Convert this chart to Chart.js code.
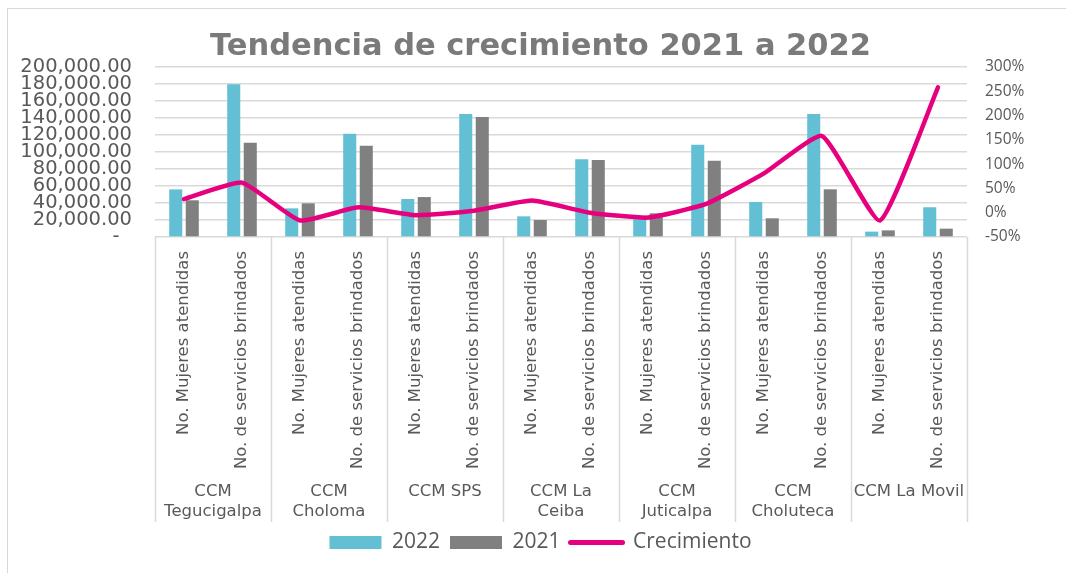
<!DOCTYPE html>
<html>
<head>
<meta charset="utf-8">
<script src="https://cdn.jsdelivr.net/npm/chart.js@4"></script>
<style>
  html, body { margin: 0; padding: 0; background: #fff; overflow: hidden; }
  #frame { position: absolute; left: 7px; top: 8px; width: 2000px; height: 2000px;
           border-left: 1.5px solid #d9d9d9; border-top: 1.5px solid #d9d9d9; }
  #chart { position: absolute; left: 0; top: 0; }
</style>
</head>
<body>
<div id="frame"></div>
<canvas id="chart" width="1066" height="573"></canvas>
<script>
// categories (inner level) and groups (outer level)
const groups = [
    ['CCM', 'Tegucigalpa'],
    ['CCM', 'Choloma'],
    'CCM SPS',
    ['CCM La', 'Ceiba'],
    ['CCM', 'Juticalpa'],
    ['CCM', 'Choluteca'],
    'CCM La Movil'
];
const subCategories = ['No. Mujeres atendidas', 'No. de servicios brindados'];
const labels = groups.flatMap(() => subCategories);

// series values
const values2022 = [56000, 179600, 33700, 121600, 44700, 144700, 24300, 91400, 25000, 108600, 41200, 144700, 6300, 35000];
const values2021 = [43200, 111000, 39600, 107400, 47000, 141200, 20000, 90600, 27900, 89800, 22000, 56100, 7800, 9800];
const growth = [0.28, 0.62, -0.16, 0.11, -0.05, 0.04, 0.25, 0.00, -0.10, 0.18, 0.81, 1.58, -0.16, 2.58];

const grey = '#595959';

// vertical separators between the outer groups of the axis
const groupLinesPlugin = {
    id: 'groupLines',
    afterDraw: (chart) => {
        const { ctx } = chart;
        const x = chart.scales.x;
        const x2 = chart.scales.x2;
        const step = x2.width / groups.length;
        ctx.save();
        ctx.strokeStyle = '#d9d9d9';
        ctx.lineWidth = 1.5;
        for (let i = 0; i <= groups.length; i++) {
            const px = Math.round(x2.left + i * step) + 0.5;
            ctx.beginPath();
            ctx.moveTo(px, x.top);
            ctx.lineTo(px, x2.bottom);
            ctx.stroke();
        }
        ctx.restore();
    }
};

const ctx = document.getElementById('chart').getContext('2d');
new Chart(ctx, {
    type: 'bar',
    data: {
        labels: labels,
        datasets: [
            {
                label: '2022',
                data: values2022,
                backgroundColor: '#63bfd3',
                yAxisID: 'y',
                order: 1,
                categoryPercentage: 0.57,
                barPercentage: 0.79
            },
            {
                label: '2021',
                data: values2021,
                backgroundColor: '#808080',
                yAxisID: 'y',
                order: 2,
                categoryPercentage: 0.57,
                barPercentage: 0.79
            },
            {
                type: 'line',
                label: 'Crecimiento',
                data: growth,
                borderColor: '#e6007e',
                backgroundColor: '#e6007e',
                borderWidth: 4.5,
                borderCapStyle: 'round',
                borderJoinStyle: 'round',
                pointRadius: 0,
                tension: 0.15,
                yAxisID: 'y1',
                order: 0
            }
        ]
    },
    options: {
        responsive: false,
        animation: false,
        layout: { padding: { left: 15, right: 0, top: 0, bottom: 10 } },
        plugins: {
            tooltip: { enabled: false },
            title: {
                display: true,
                text: 'Tendencia de crecimiento 2021 a 2022',
                color: '#7a7a7a',
                font: { family: '"DejaVu Sans"', size: 30.5, weight: 'bold' },
                padding: { top: 28.5, bottom: 1.9 }
            },
            legend: {
                position: 'bottom',
                labels: {
                    color: grey,
                    font: { family: '"Open Sans"', size: 21 },
                    usePointStyle: true,
                    pointStyleWidth: 52,
                    boxHeight: 13,
                    padding: 10,
                    sort: (a, b) => a.datasetIndex - b.datasetIndex,
                    generateLabels: (chart) => {
                        const items = Chart.defaults.plugins.legend.labels.generateLabels(chart);
                        items.forEach(item => {
                            if (item.datasetIndex === 2) {
                                item.pointStyle = 'line';
                                item.lineWidth = 5;
                                item.lineCap = 'round';
                            } else {
                                item.pointStyle = 'rect';
                                item.lineWidth = 0;
                            }
                        });
                        return items;
                    }
                }
            }
        },
        scales: {
            x: {
                position: 'bottom',
                grid: { display: false },
                border: { display: false },
                ticks: {
                    color: grey,
                    font: { family: '"DejaVu Sans"', size: 16.5 },
                    minRotation: 90,
                    maxRotation: 90,
                    autoSkip: false,
                    padding: 6
                },
                afterFit: (s) => { s.height = 235; }
            },
            x2: {
                type: 'category',
                position: 'bottom',
                labels: groups,
                offset: true,
                grid: { display: false },
                border: { display: false },
                ticks: {
                    color: grey,
                    font: { family: '"DejaVu Sans"', size: 16.5, lineHeight: 1.2 },
                    maxRotation: 0,
                    autoSkip: false,
                    padding: 2
                },
                afterFit: (s) => { s.height = 50; }
            },
            y: {
                position: 'left',
                min: 0,
                max: 200000,
                grid: { color: '#d9d9d9', lineWidth: 1.4, drawTicks: false },
                border: { display: false },
                ticks: {
                    stepSize: 20000,
                    autoSkip: false,
                    color: grey,
                    padding: 23,
                    font: { family: '"DejaVu Sans"', size: 19.5 },
                    callback: (v) => v === 0 ? '-  ' : v.toLocaleString('en-US', { minimumFractionDigits: 2, maximumFractionDigits: 2 })
                },
                afterFit: (s) => { s.width = 140; }
            },
            y1: {
                position: 'right',
                min: -0.5,
                max: 3,
                grid: { drawOnChartArea: false, drawTicks: false },
                border: { display: false },
                ticks: {
                    stepSize: 0.5,
                    autoSkip: false,
                    color: grey,
                    padding: 18,
                    font: { family: '"Open Sans"', size: 15.5 },
                    callback: (v) => Math.round(v * 100) + '%'
                },
                afterFit: (s) => { s.width = 99; }
            }
        }
    },
    plugins: [groupLinesPlugin]
});
</script>
</body>
</html>
